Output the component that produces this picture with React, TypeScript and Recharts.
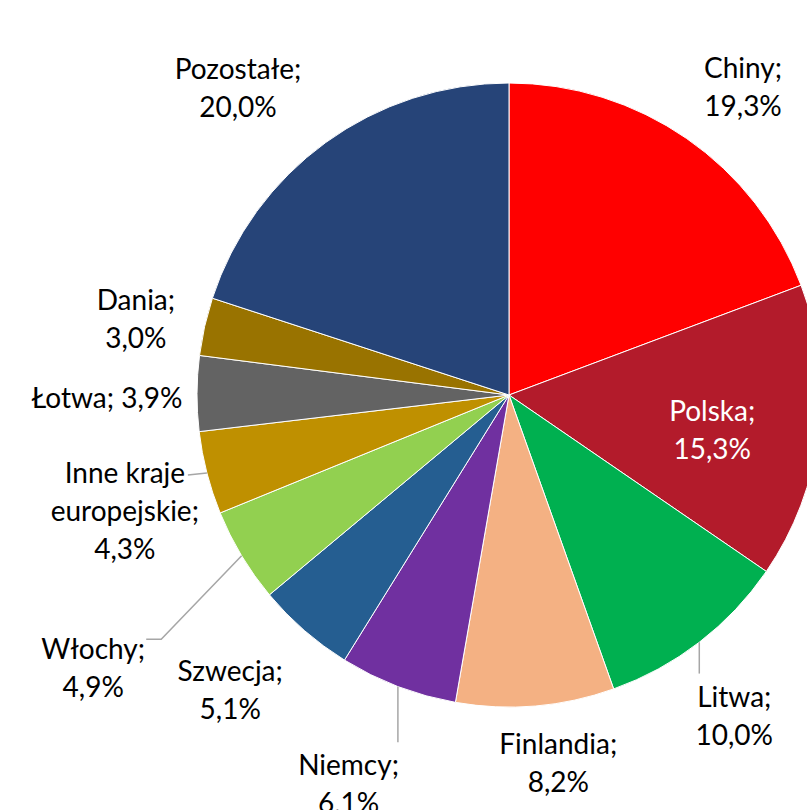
import React from "react";
import { PieChart, Pie, Cell } from "recharts";

const countries = ["Chiny", "Polska", "Litwa", "Finlandia", "Niemcy", "Szwecja", "Włochy", "Inne kraje europejskie", "Łotwa", "Dania", "Pozostałe"];
const shares = [19.3, 15.3, 10.0, 8.2, 6.1, 5.1, 4.9, 4.3, 3.9, 3.0, 20.0];
const valueLabels = ["19,3%", "15,3%", "10,0%", "8,2%", "6,1%", "5,1%", "4,9%", "4,3%", "3,9%", "3,0%", "20,0%"];

const colors = ["#FF0000", "#B31B2B", "#00B050", "#F4B183", "#7030A0", "#255E91", "#92D050", "#BF9000", "#636363", "#997300", "#264478"];

// label layout: radius (from center), angle delta (deg), text lines, leader type
const labelLayout = [
  { r: 388, da: -2.4, lines: ["Chiny;", "19,3%"], fill: "#000", leader: null },
  { r: 206, da: -2.5, lines: ["Polska;", "15,3%"], fill: "#fff", leader: null },
  { r: 391, da: -2.4, lines: ["Litwa;", "10,0%"], fill: "#000", leader: "vertical" },
  { r: 370, da: 2.8, lines: ["Finlandia;", "8,2%"], fill: "#000", leader: null },
  { r: 420, da: -1.6, lines: ["Niemcy;", "6,1%"], fill: "#000", leader: "vertical" },
  { r: 405, da: -2.5, lines: ["Szwecja;", "5,1%"], fill: "#000", leader: null },
  { r: 497, da: 2.2, lines: ["Włochy;", "4,9%"], fill: "#000", leader: "elbow" },
  { r: 401, da: 2.2, lines: ["Inne kraje", "europejskie;", "4,3%"], fill: "#000", leader: "short" },
  { r: 402, da: 0.5, lines: ["Łotwa; 3,9%"], fill: "#000", leader: null },
  { r: 381, da: 1.0, lines: ["Dania;", "3,0%"], fill: "#000", leader: null },
  { r: 410, da: 5.4, lines: ["Pozostałe;", "20,0%"], fill: "#000", leader: null },
];

const data = countries.map((name, i) => ({ name, value: shares[i], label: valueLabels[i] }));

const RAD = Math.PI / 180;
const LINE_H = 38;

const renderLabel = (props: any) => {
  const { cx, cy, midAngle, outerRadius, index } = props;
  const lay = labelLayout[index];
  const a = (midAngle + lay.da) * RAD;
  const x = cx + lay.r * Math.cos(a);
  const y = cy - lay.r * Math.sin(a);
  const n = lay.lines.length;
  const firstY = y - ((n - 1) * LINE_H) / 2;
  const ex = cx + outerRadius * Math.cos(midAngle * RAD);
  const ey = cy - outerRadius * Math.sin(midAngle * RAD);
  let leader: React.ReactNode = null;
  if (lay.leader === "vertical") {
    const topText = firstY - 22;
    leader = <path d={`M${ex},${ey} L${ex},${topText}`} stroke="#A6A6A6" strokeWidth={1.5} fill="none" />;
  } else if (lay.leader === "elbow") {
    leader = <path d={`M${ex},${ey} L${x + 68},${firstY - 9} L${x + 53},${firstY - 9}`} stroke="#A6A6A6" strokeWidth={1.5} fill="none" />;
  } else if (lay.leader === "short") {
    leader = <path d={`M${ex},${ey} L${x + 63},${firstY + 3}`} stroke="#A6A6A6" strokeWidth={1.5} fill="none" />;
  }
  return (
    <g key={`lbl-${index}`}>
      {leader}
      <text x={x} y={firstY} textAnchor="middle" dominantBaseline="central" fill={lay.fill}
        style={{ fontFamily: "Lato, 'Noto Sans', sans-serif", fontSize: 28 }}>
        {lay.lines.map((t, i) => (
          <tspan key={i} x={x} dy={i === 0 ? 0 : LINE_H}>{t}</tspan>
        ))}
      </text>
    </g>
  );
};

export default function App() {
  return (
    <div style={{ position: "fixed", left: 0, top: 0, width: 807, height: 810, background: "#fff", overflow: "hidden" }}>
      <PieChart width={807} height={810} margin={{ top: 0, right: 0, bottom: 0, left: 0 }}>
        <Pie
          data={data}
          dataKey="value"
          nameKey="name"
          cx={509}
          cy={395}
          outerRadius={312}
          startAngle={90}
          endAngle={-270}
          stroke="#ffffff"
          strokeWidth={1}
          label={renderLabel}
          labelLine={false}
          isAnimationActive={false}
        >
          {data.map((d, i) => (
            <Cell key={d.name} fill={colors[i]} />
          ))}
        </Pie>
      </PieChart>
    </div>
  );
}
